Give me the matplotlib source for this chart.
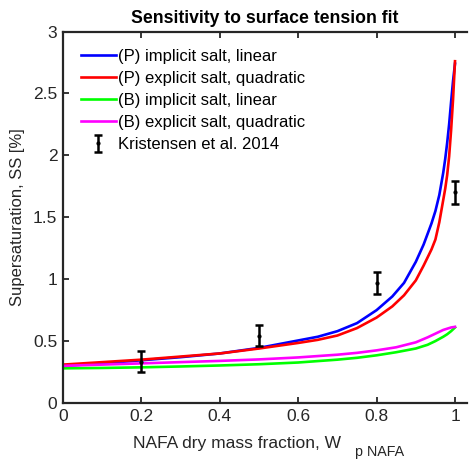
import matplotlib
matplotlib.use("Agg")
import matplotlib.pyplot as plt

plt.rcParams['font.family'] = ['Liberation Sans', 'DejaVu Sans']

# P series
x_p = [0, 0.1, 0.2, 0.3, 0.4, 0.5, 0.6, 0.65, 0.7, 0.75, 0.8, 0.84, 0.87, 0.9,
       0.92, 0.94, 0.95, 0.96, 0.97, 0.975, 0.98, 0.985, 0.99, 0.995, 1.0]
p_implicit_linear = [0.30, 0.32, 0.345, 0.37, 0.40, 0.445, 0.505, 0.535, 0.58, 0.645,
                     0.75, 0.86, 0.97, 1.14, 1.28, 1.45, 1.55, 1.68, 1.86, 1.97,
                     2.10, 2.25, 2.43, 2.60, 2.74]
p_explicit_quadratic = [0.31, 0.33, 0.35, 0.375, 0.40, 0.44, 0.485, 0.51, 0.545, 0.605,
                        0.69, 0.78, 0.87, 0.99, 1.11, 1.24, 1.32, 1.46, 1.64, 1.73,
                        1.84, 1.99, 2.20, 2.45, 2.76]

# B series
x_b = [0, 0.1, 0.2, 0.3, 0.4, 0.5, 0.6, 0.7, 0.75, 0.8, 0.85, 0.9, 0.93, 0.95,
       0.97, 0.98, 0.99, 1.0]
b_implicit_linear = [0.28, 0.283, 0.288, 0.295, 0.303, 0.313, 0.327, 0.35, 0.365,
                     0.385, 0.41, 0.44, 0.47, 0.50, 0.535, 0.555, 0.58, 0.61]
b_explicit_quadratic = [0.30, 0.31, 0.32, 0.33, 0.34, 0.352, 0.368, 0.39, 0.405,
                        0.425, 0.45, 0.49, 0.53, 0.56, 0.59, 0.60, 0.61, 0.615]

obs_x = [0.2, 0.5, 0.8, 1.0]
obs_y = [0.335, 0.545, 0.967, 1.70]
obs_err = [0.085, 0.085, 0.087, 0.095]

labels = ["(P) implicit salt, linear", "(P) explicit salt, quadratic",
          "(B) implicit salt, linear", "(B) explicit salt, quadratic",
          "Kristensen et al. 2014"]

W, H = 469, 459
fig = plt.figure(figsize=(W / 100, H / 100), dpi=100)
left, right, bottom, top = 63, 467, 403, 31.5
ax = fig.add_axes([left / W, 1 - bottom / H, (right - left) / W, (bottom - top) / H])

lw = 1.9
ax.plot(x_p, p_implicit_linear, color=(0, 0, 1), lw=lw, label=labels[0])
ax.plot(x_p, p_explicit_quadratic, color=(1, 0, 0), lw=lw, label=labels[1])
ax.plot(x_b, b_implicit_linear, color=(0, 1, 0), lw=lw, label=labels[2])
ax.plot(x_b, b_explicit_quadratic, color=(1, 0, 1), lw=lw, label=labels[3])
ax.errorbar(obs_x, obs_y, yerr=obs_err, fmt='.', color='black', ms=4,
            elinewidth=1.8, capsize=3, capthick=1.8, label=labels[4])

ax.set_xlim(0, (right - left) / 392)
ax.set_ylim(0, 3)
ax.set_xticks([0, 0.2, 0.4, 0.6, 0.8, 1])
ax.set_xticklabels(['0', '0.2', '0.4', '0.6', '0.8', '1'])
ax.set_yticks([0, 0.5, 1, 1.5, 2, 2.5, 3])
ax.set_yticklabels(['0', '0.5', '1', '1.5', '2', '2.5', '3'])
ax.tick_params(direction='in', length=4, width=1.3, top=True, right=False,
               labelsize=12.5, colors='#262626', pad=4)
for s in ax.spines.values():
    s.set_linewidth(1.6)
    s.set_color('#262626')
ax.spines['right'].set_visible(False)

ax.set_title("Sensitivity to surface tension fit", fontsize=12.7, fontweight='bold',
             pad=6)
ax.set_ylabel("Supersaturation, SS [%]", fontsize=12, color='#262626', labelpad=6)

# x label with a large MATLAB-style subscript
fig.text(133 / W, (H - 448) / H, "NAFA dry mass fraction, W", fontsize=12.5,
         color='#262626', ha='left', va='baseline')
fig.text(355 / W, (H - 456) / H, "p NAFA", fontsize=10.3,
         color='#262626', ha='left', va='baseline')

leg = ax.legend(loc='upper left', frameon=False, fontsize=12, handlelength=2.1,
                handletextpad=0.12, labelspacing=0.42, borderaxespad=0.6,
                borderpad=0.45)

fig.savefig("out.png", dpi=100)
